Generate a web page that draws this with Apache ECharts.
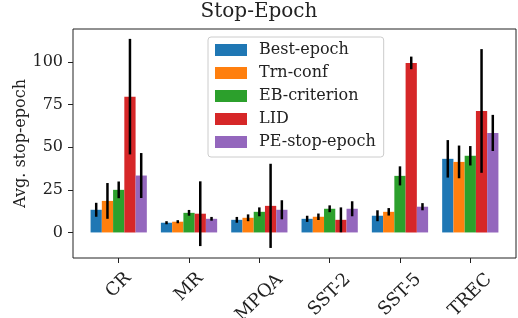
<!DOCTYPE html>
<html>
<head>
<meta charset="utf-8">
<script src="https://cdn.jsdelivr.net/npm/echarts@6/dist/echarts.min.js"></script>
<style>html,body{margin:0;padding:0;background:#fff}#main{width:518px;height:318px}</style>
</head>
<body>
<div id="main"></div>
<script>
var categories = ['CR', 'MR', 'MPQA', 'SST-2', 'SST-5', 'TREC'];
var methods = ['Best-epoch', 'Trn-conf', 'EB-criterion', 'LID', 'PE-stop-epoch'];
var colors = ['#1f77b4', '#ff7f0e', '#2ca02c', '#d62728', '#9467bd'];
var bestEpoch = [13.3, 5.7, 7.4, 8.0, 9.8, 43.2];
var bestEpochErr = [4.1, 0.9, 1.7, 1.8, 3.2, 11.0];
var trnConf = [18.5, 6.3, 8.6, 9.2, 12.1, 41.4];
var trnConfErr = [10.5, 0.9, 2.0, 1.9, 2.2, 9.6];
var ebCriterion = [25.0, 11.5, 12.1, 13.9, 33.2, 45.0];
var ebCriterionErr = [4.9, 1.7, 2.6, 2.0, 5.6, 5.7];
var lid = [79.7, 11.0, 15.6, 7.4, 99.5, 71.3];
var lidErr = [33.9, 19.0, 24.7, 7.3, 3.7, 36.3];
var peStop = [33.4, 8.0, 13.3, 13.9, 15.1, 58.4];
var peStopErr = [13.2, 1.1, 5.6, 4.4, 2.1, 10.6];
var yTicks = [0, 25, 50, 75, 100];

var values = [bestEpoch, trnConf, ebCriterion, lid, peStop];
var errors = [bestEpochErr, trnConfErr, ebCriterionErr, lidErr, peStopErr];
var barW = 0.16;
var yMin = -15, yMax = 119.4;
var FONT = '"DejaVu Serif", serif';

var measure = document.createElement('canvas').getContext('2d');
measure.font = '18px "DejaVu Serif"';

var myChart = echarts.init(document.getElementById('main'));
var series = [];

// bars
methods.forEach(function (name, j) {
  series.push({
    name: name,
    type: 'custom',
    itemStyle: {color: colors[j]},
    data: categories.map(function (c, i) { return [i, values[j][i]]; }),
    renderItem: function (params, api) {
      var xc = api.value(0) + (j - 2) * barW;
      var p0 = api.coord([xc - barW / 2, 0]);
      var p1 = api.coord([xc + barW / 2, api.value(1)]);
      return {
        type: 'rect',
        shape: {x: p0[0], y: p1[1], width: p1[0] - p0[0], height: p0[1] - p1[1]},
        style: {fill: colors[j]}
      };
    }
  });
});

// error bars
methods.forEach(function (name, j) {
  series.push({
    name: name + ' err',
    type: 'custom',
    z: 5,
    data: categories.map(function (c, i) { return [i, values[j][i], errors[j][i]]; }),
    renderItem: function (params, api) {
      var xc = api.value(0) + (j - 2) * barW;
      var v = api.value(1), e = api.value(2);
      var a = api.coord([xc, v - e]);
      var b = api.coord([xc, v + e]);
      return {
        type: 'line',
        shape: {x1: a[0], y1: a[1], x2: b[0], y2: b[1]},
        style: {stroke: '#000', lineWidth: 2.5}
      };
    }
  });
});

// rotated category labels, box centred under the tick
series.push({
  name: 'labels',
  type: 'custom',
  silent: true,
  data: categories.map(function (c, i) { return [i]; }),
  renderItem: function (params, api) {
    var i = api.value(0);
    var txt = categories[i];
    var w = measure.measureText(txt).width;
    var p = api.coord([i, yMin]);
    return {
      type: 'text',
      x: p[0],
      y: p[1] + 11 + (w + 13) * 0.4,
      rotation: Math.PI / 4,
      style: {text: txt, align: 'center', verticalAlign: 'middle', font: '18px ' + FONT, fill: '#222'}
    };
  }
});

var option = {
  animation: false,
  title: {
    text: 'Stop-Epoch',
    left: 'center',
    top: 2,
    padding: [0, 0, 0, 72],
    textStyle: {fontFamily: FONT, fontSize: 20, fontWeight: 'normal', color: '#222'}
  },
  legend: {
    data: methods,
    orient: 'vertical',
    left: 208,
    top: 37,
    padding: [5, 8, 7, 7],
    itemWidth: 32,
    itemHeight: 12,
    itemGap: 7,
    icon: 'rect',
    backgroundColor: 'rgba(255,255,255,0.8)',
    borderColor: '#cccccc',
    borderWidth: 1,
    borderRadius: 3,
    textStyle: {fontFamily: FONT, fontSize: 16, color: '#222', lineHeight: 16, padding: [0, 0, 0, 7]}
  },
  grid: {
    left: 73, top: 29, width: 443, height: 229,
    show: true, borderColor: '#222', borderWidth: 1, backgroundColor: 'transparent'
  },
  xAxis: {
    type: 'value',
    min: -0.65,
    max: 5.65,
    splitLine: {show: false},
    axisLine: {show: false, onZero: false},
    axisTick: {show: true, customValues: [0, 1, 2, 3, 4, 5], length: 5, lineStyle: {color: '#222'}},
    axisLabel: {show: false}
  },
  yAxis: {
    type: 'value',
    min: yMin,
    max: yMax,
    name: 'Avg. stop-epoch',
    nameLocation: 'middle',
    nameGap: 44,
    nameMoveOverlap: false,
    nameTextStyle: {fontFamily: FONT, fontSize: 16, color: '#222'},
    splitLine: {show: false},
    axisLine: {show: false, onZero: false},
    axisTick: {show: true, customValues: yTicks, length: 5, lineStyle: {color: '#222'}},
    axisLabel: {customValues: yTicks, margin: 10, fontFamily: FONT, fontSize: 16, color: '#222'}
  },
  series: series
};
myChart.setOption(option);
</script>
</body>
</html>
